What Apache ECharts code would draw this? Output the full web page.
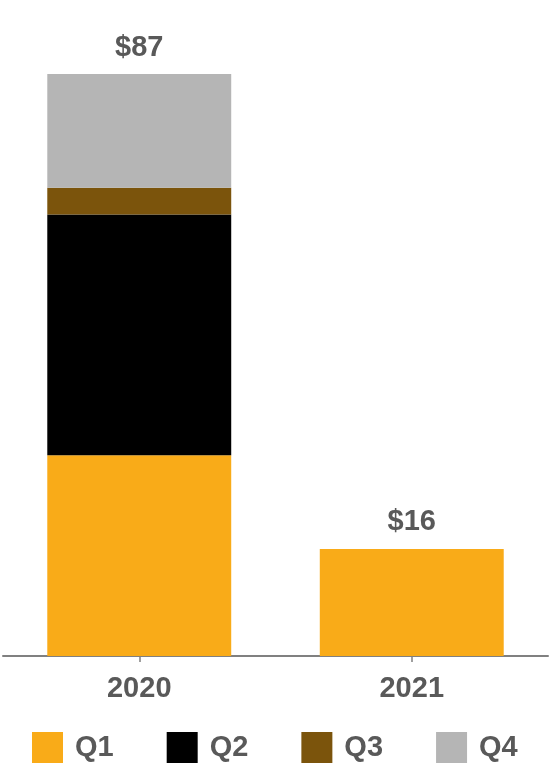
<!DOCTYPE html>
<html>
<head>
<meta charset="utf-8">
<script src="https://cdn.jsdelivr.net/npm/echarts@6/dist/echarts.min.js"></script>
<style>
  html, body { margin: 0; padding: 0; background: #fff; }
  #main { width: 551px; height: 767px; }
</style>
</head>
<body>
<div id="main"></div>
<script>
// data
var years = ['2020', '2021'];
var q1 = [30, 16];
var q2 = [36, null];
var q3 = [4, null];
var q4 = [17, null];
var totals = [87, 16];

var colors = ['#F9AB18', '#000000', '#7B540C', '#B5B5B5'];
var txt = '#595959';
var font = '"Liberation Sans", Arial, sans-serif';

var chart = echarts.init(document.getElementById('main'));

function part(name, data, color){
  return {
    name: name,
    type: 'bar',
    stack: 'all',
    barWidth: '67.5%',
    data: data,
    itemStyle: { color: color },
    emphasis: { disabled: true }
  };
}

var series = [
  part('Q1', q1, colors[0]),
  part('Q2', q2, colors[1]),
  part('Q3', q3, colors[2]),
  part('Q4', q4, colors[3]),
  // zero-height bar on top of the stack, only carries the total label
  {
    name: 'total',
    type: 'bar',
    stack: 'all',
    barWidth: '67.5%',
    data: [0, 0],
    itemStyle: { color: 'transparent' },
    label: {
      show: true,
      position: 'top',
      distance: 12,
      formatter: function(p){ return '$' + totals[p.dataIndex]; },
      color: txt,
      fontFamily: font,
      fontWeight: 'bold',
      fontSize: 29
    }
  }
];

chart.setOption({
  animation: false,
  grid: { left: 3, right: 3, top: 74, bottom: 111 },
  legend: {
    data: ['Q1', 'Q2', 'Q3', 'Q4'],
    top: 732,
    left: 32,
    padding: 0,
    itemWidth: 31,
    itemHeight: 31,
    itemGap: 53,
    icon: 'rect',
    textStyle: { color: txt, fontFamily: font, fontWeight: 'bold', fontSize: 29, padding: [2, 0, 0, 7] }
  },
  xAxis: {
    type: 'category',
    data: years,
    axisLine: { lineStyle: { color: '#808080', width: 2 } },
    axisTick: { show: true, alignWithLabel: true, length: 6, lineStyle: { color: '#808080', width: 1.5 } },
    axisLabel: { color: txt, fontFamily: font, fontWeight: 'bold', fontSize: 29, margin: 18 }
  },
  yAxis: {
    type: 'value',
    min: 0,
    max: 87,
    show: false,
    splitLine: { show: false }
  },
  series: series
});
</script>
</body>
</html>
